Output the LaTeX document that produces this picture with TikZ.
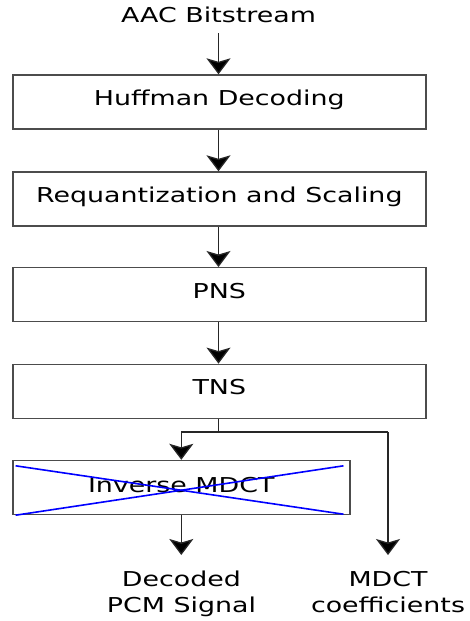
\documentclass[tikz,border=0pt]{standalone}
\usepackage{fontspec}
\setmainfont[FakeStretch=1.31]{DejaVu Sans}
\usetikzlibrary{arrows.meta,calc}
\begin{document}
\begin{tikzpicture}[x=1pt,y=-1pt,
  every node/.style={font=\fontsize{20.5}{26}\selectfont, text=black},
  blockbox/.style={draw=black!70, line width=1.4pt, rectangle, inner sep=0pt,
    minimum height=54pt, text height=15pt, text depth=8pt},
  flow/.style={draw=black!85, line width=1.3pt, -{Stealth[length=16pt,width=24pt,inset=3.5pt,fill=black]}},
  plain/.style={draw=black!85, line width=1.3pt},
  cross/.style={draw=blue, line width=1.6pt}]
\useasboundingbox (0,0) rectangle (470,621);
\node[anchor=base, inner sep=0pt] (src) at (218.5,22.7) {AAC Bitstream};
\node[blockbox, minimum width=413pt] (huff) at (219.3,102) {Huffman Decoding};
\node[blockbox, minimum width=413pt] (req) at (219.3,199) {Requantization and Scaling};
\node[blockbox, minimum width=413pt] (pns) at (219.3,294.7) {PNS};
\node[blockbox, minimum width=413pt] (tns) at (219.3,391.3) {TNS};
\node[blockbox, minimum width=337pt, text depth=5pt] (imdct) at (181.3,487.5) {Inverse MDCT};
\node[anchor=base, align=center, inner sep=0pt] (pcm) at (181.5,612) {Decoded\\PCM Signal};
\node[anchor=base, align=center, inner sep=0pt] (coef) at (388,612) {MDCT\\coefficients};
\coordinate (split) at (tns.south |- 0,432);
\coordinate (sl) at (imdct.north |- split);
\coordinate (sr) at (388,432);
\coordinate (pcmtip) at (imdct.south |- 0,555);
\coordinate (coeftip) at (388,555);
\coordinate (srcbot) at (218.5,33);
\draw[flow] (srcbot) -- (srcbot |- huff.north);
\draw[flow] (huff.south -| srcbot) -- (srcbot |- req.north);
\draw[flow] (req.south -| srcbot) -- (srcbot |- pns.north);
\draw[flow] (pns.south -| srcbot) -- (srcbot |- tns.north);
\draw[plain] (tns.south -| srcbot) -- (srcbot |- split);
\draw[plain] (sl) -- (sr);
\draw[flow] (sl) -- (imdct.north);
\draw[flow] (sr) -- (coeftip);
\draw[flow] (imdct.south) -- (pcmtip);
\draw[cross] ($(imdct.north west)+(3.5,6)$) -- ($(imdct.south east)+(-7,-1)$);
\draw[cross] ($(imdct.south west)+(3.5,0)$) -- ($(imdct.north east)+(-7,6)$);
\end{tikzpicture}
\end{document}
